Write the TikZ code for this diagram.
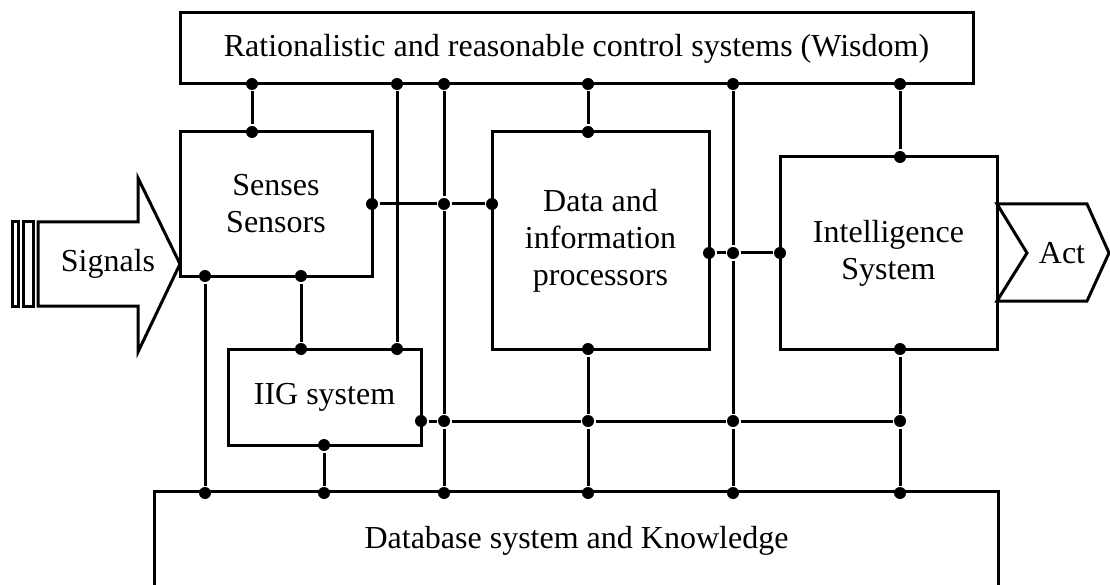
\documentclass[tikz,border=0pt]{standalone}
\usepackage{fontspec}
\setmainfont{Liberation Serif}

\tikzset{%
  every block/.style={
    draw,
    align=center,
    inner sep=0pt
  },
  junction/.style={
    circle,
    fill,
    inner sep=0pt,
    minimum size=12pt
  },
}

\begin{document}
\begin{tikzpicture}[x=1pt, y=-1pt, line width=3pt, font=\fontsize{32}{37}\selectfont]
    \useasboundingbox (0,0) rectangle (1110,585);

        \node [every block, minimum width=793pt, minimum height=71pt] (wisdom) at (576.5,48.5) {Rationalistic and reasonable control systems (Wisdom)};
        \node [every block, minimum width=192pt, minimum height=144pt] (senses) at (276,204) {Senses\\Sensors};
        \node [every block, minimum width=217pt, minimum height=217pt] (data) at (600.5,240.5) {Data and\\information\\processors};
        \node [every block, minimum width=217pt, minimum height=192pt] (intel) at (888.5,253) {Intelligence\\System};
        \node [every block, minimum width=193pt, minimum height=96pt] (iig) at (324.5,397) {IIG system};
        \node [every block, draw=none, minimum width=841pt, minimum height=95pt] (database) at (576.5,540.5) {Database system and Knowledge};
        \draw (database.south west) |- (database.north east) -- (database.south east);

        \draw (12,222) rectangle (18,306);
        \draw (23,222) rectangle (33,306);
        \draw (38,222) -- (138,222) -- (138,178) -- (180,264) -- (138,352) -- (138,306) -- (38,306) -- cycle;
        \node (signals) at (108,264) {Signals};
        \draw (997,204) -- (1087,204) -- (1109,253) -- (1087,301) -- (997,301) -- (1027,253) -- cycle;
        \node (act) at (1062,253) {Act};

        \foreach \n/\x/\y in {w1/252/84, w2/397/84, w3/444/84, w4/588/84, w5/733/84, w6/900/84,
                              d1/205/493, d2/324/493, d3/444/493, d4/588/493, d5/733/493, d6/900/493,
                              b1/421/421, b2/444/421, b3/588/421, b4/733/421, b5/900/421,
                              s1/252/132, s2/372/204, s3/205/276, s4/301/276,
                              c1/444/204, c2/733/253,
                              a1/492/204, a2/588/132, a3/709/253, a4/588/349,
                              n1/900/157, n2/780/253, n3/900/349,
                              g1/301/349, g2/397/349, g3/324/445}
          \node [junction] (\n) at (\x,\y) {};
        \foreach \a/\b in {w1/s1, w2/g2, w3/c1, c1/b2, b2/d3, w4/a2, w5/c2, c2/b4, b4/d5, w6/n1,
                           s2/c1, c1/a1, s3/d1, s4/g1, g3/d2, b1/b2, b2/b3, b3/b4, b4/b5,
                           a4/b3, b3/d4, n3/b5, b5/d6, a3/c2, c2/n2}
          \draw (\a) -- (\b);
    \end{tikzpicture}
\end{document}
